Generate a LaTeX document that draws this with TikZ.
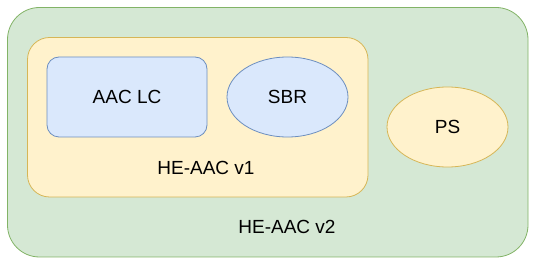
\documentclass[tikz,border=0pt]{standalone}
\usepackage{fontspec}
\setmainfont{Liberation Sans}
\usetikzlibrary{shapes.geometric}
\definecolor{gfill}{HTML}{D5E8D4}
\definecolor{gline}{HTML}{82B366}
\definecolor{yfill}{HTML}{FFF2CC}
\definecolor{yline}{HTML}{D6B656}
\definecolor{bfill}{HTML}{DAE8FC}
\definecolor{bline}{HTML}{6C8EBF}
\tikzset{
  lbl/.style={font=\fontsize{19}{22}\selectfont, text=black, inner sep=0pt},
  shp/.style={line width=0.8pt},
}
\begin{document}
\begin{tikzpicture}[x=1pt,y=-1pt]
\useasboundingbox (0,0) rectangle (541,272);
% outer container
\draw[shp, fill=gfill, draw=gline, rounded corners=32pt] (7.5,7.5) rectangle (528,257);
% inner container
\draw[shp, fill=yfill, draw=yline, rounded corners=22pt] (27.5,37.5) rectangle (368,197);
% components
\node[shp, draw=bline, fill=bfill, rounded corners=12pt, minimum width=160pt, minimum height=80pt, lbl] (aac) at (127,97) {AAC LC};
\node[shp, ellipse, draw=bline, fill=bfill, minimum width=121pt, minimum height=80pt, lbl] (sbr) at (287.5,97) {SBR};
\node[shp, ellipse, draw=yline, fill=yfill, minimum width=121pt, minimum height=80pt, lbl] (ps) at (447.5,127) {PS};
\node[lbl] (v1) at (206,168) {HE-AAC v1};
\node[lbl] (v2) at (287,227) {HE-AAC v2};
\end{tikzpicture}
\end{document}
